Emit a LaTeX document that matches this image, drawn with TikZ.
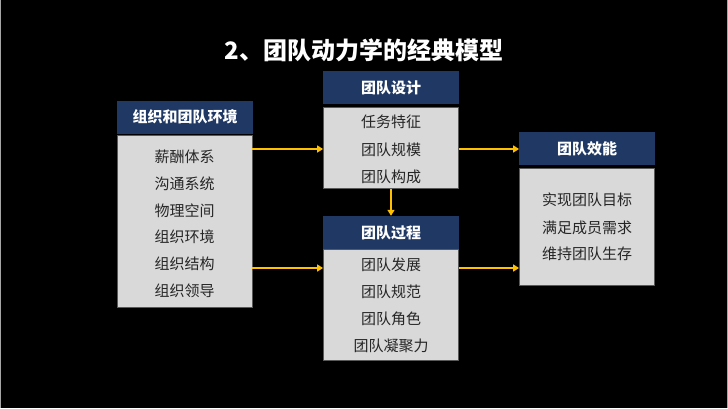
\documentclass[tikz,border=0pt]{standalone}
\usepackage{fontspec}
\setmainfont{Noto Sans CJK SC}
\usetikzlibrary{arrows.meta}
\definecolor{navy}{HTML}{1F3864}
\definecolor{panel}{HTML}{D9D9D9}
\definecolor{panelline}{HTML}{595959}
\definecolor{flow}{HTML}{FFC000}
\definecolor{itemtext}{HTML}{262626}
\tikzset{
  head/.style={fill=navy, draw=none, minimum width=136pt, minimum height=33pt,
    inner sep=0pt, text=white, font=\fontsize{15}{17}\selectfont\bfseries},
  panelbox/.style={fill=panel, draw=panelline, line width=0.8pt, minimum width=135pt, inner sep=0pt},
  item/.style={text=itemtext, font=\fontsize{15}{17}\selectfont, inner sep=0pt},
  link/.style={draw=flow, line width=1.8pt, -{Triangle[length=6pt,width=7pt]}}
}
\begin{document}
\begin{tikzpicture}[x=1pt,y=-1pt]
\fill[black] (0,0) rectangle (728,408);
\useasboundingbox (0,0) rectangle (728,408);
\draw[gray!70, line width=1pt] (0.5,0) -- (0.5,408) (727.5,0) -- (727.5,408);

% title
\node[text=white, font=\fontsize{24}{27}\selectfont\bfseries] (title) at (364,50) {2、团队动力学的经典模型};

% left column: organisation and team environment
\node[head] (envh) at (185,117) {组织和团队环境};
\node[panelbox, minimum height=172pt] (envb) at (184.5,221) {};
\node[item] at (184.5,157) {薪酬体系};
\node[item] at (184.5,184) {沟通系统};
\node[item] at (184.5,211) {物理空间};
\node[item] at (184.5,237) {组织环境};
\node[item] at (184.5,264) {组织结构};
\node[item] at (184.5,291) {组织领导};

% middle column, top: team design
\node[head] (desh) at (391,87.5) {团队设计};
\node[panelbox, minimum height=81pt] (desb) at (391,148) {};
\node[item] at (391,122) {任务特征};
\node[item] at (391,150) {团队规模};
\node[item] at (391,177) {团队构成};

% middle column, bottom: team process
\node[head] (proh) at (391,232.5) {团队过程};
\node[panelbox, minimum height=111pt] (prob) at (391,304.5) {};
\node[item] at (391,265) {团队发展};
\node[item] at (391,292) {团队规范};
\node[item] at (391,319) {团队角色};
\node[item] at (391,346) {团队凝聚力};

% right column: team effectiveness
\node[head] (effh) at (587,148.5) {团队效能};
\node[panelbox, minimum height=117pt] (effb) at (587,226.5) {};
\node[item] at (587,200) {实现团队目标};
\node[item] at (587,228) {满足成员需求};
\node[item] at (587,254) {维持团队生存};

% connectors
\coordinate (a1) at (envb.east |- 0,149);
\coordinate (a2) at (envb.east |- 0,268);
\draw[link] (a1) -- (desb.west |- a1);
\draw[link] (a2) -- (prob.west |- a2);
\draw[link] (desb.east |- a1) -- (effb.west |- a1);
\draw[link] (prob.east |- a2) -- (effb.west |- a2);
\draw[link] (desb.south) -- (proh.north);
\end{tikzpicture}
\end{document}
